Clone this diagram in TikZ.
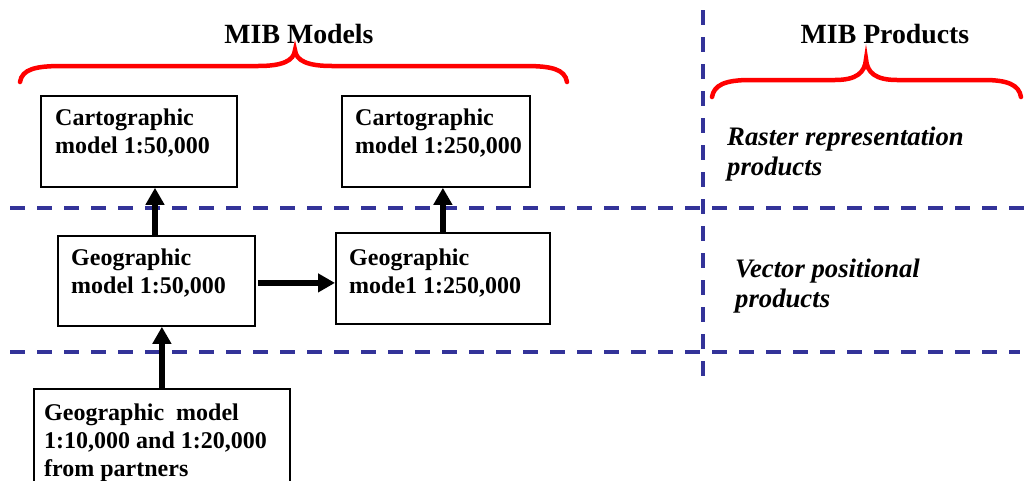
\documentclass[tikz,border=0pt]{standalone}
\usepackage{fontspec}
\setmainfont{Liberation Serif}
\usetikzlibrary{arrows.meta}
\definecolor{dashblue}{RGB}{51,51,153}
\tikzset{
  box/.style={draw=black, line width=1.8pt, inner sep=0pt, anchor=north west},
  boxtext/.style={anchor=north west, inner sep=0pt, align=left, font=\bfseries\fontsize{24}{28}\selectfont},
  prodtext/.style={anchor=north west, inner sep=0pt, align=left, font=\bfseries\itshape\fontsize{26.7}{30}\selectfont},
  title/.style={inner sep=0pt, font=\bfseries\fontsize{27.8}{32}\selectfont},
  flow/.style={line width=5.5pt, -{Triangle[length=17pt,width=18pt]}},
  divider/.style={draw=dashblue, line width=3.5pt, dash pattern=on 15pt off 12pt},
  brace/.style={draw=red, line width=4.5pt, line cap=round}
}
\begin{document}
\begin{tikzpicture}[x=1pt,y=-1pt]
\useasboundingbox (0,0) rectangle (1029,480);
\clip (0,0) rectangle (1029,480);
% dividers
\draw[divider] (10,208) -- (1029,208);
\draw[divider] (10,352) -- (1020,352);
\draw[divider] (703,10) -- (703,380);
% titles
\node[title] (tmodels) at (299,33.5) {MIB Models};
\node[title] (tproducts) at (885,34) {MIB Products};
% braces
\draw[brace] (20,82) .. controls (22,69) and (36,66) .. (62,66) -- (258,66)
  .. controls (282,66) and (294,61) .. (295,50)
  .. controls (296,61) and (308,66) .. (332,66) -- (525,66)
  .. controls (551,66) and (565,69) .. (567,82);
\draw[brace] (712,97) .. controls (714,85) and (725,80) .. (750,80) -- (835,80)
  .. controls (856,80) and (865,73) .. (866,59)
  .. controls (867,73) and (876,80) .. (897,80) -- (984,80)
  .. controls (1008,80) and (1019,85) .. (1021,97);
% boxes
\node[box, minimum width=196pt, minimum height=91pt] (carto1) at (40,95) {};
\node[box, minimum width=188pt, minimum height=91pt] (carto2) at (341,95) {};
\node[box, minimum width=197pt, minimum height=90pt] (geo1) at (57,235) {};
\node[box, minimum width=214pt, minimum height=91pt] (geo2) at (335,232) {};
\node[box, minimum width=256pt, minimum height=120pt] (geo3) at (33,388) {};
% texts
\node[boxtext] (carto1t) at (55,108.5) {Cartographic\\model 1:50,000};
\node[boxtext] (carto2t) at (355,108.5) {Cartographic\\model 1:250,000};
\node[boxtext] (geo1t) at (71,248.5) {Geographic\\model 1:50,000};
\node[boxtext] (geo2t) at (349,249) {Geographic\\mode1 1:250,000};
\node[boxtext] (geo3t) at (44,404) {Geographic\ \ model\\1:10,000 and 1:20,000\\from partners};
\node[prodtext] (raster) at (727,127) {Raster representation\\products};
\node[prodtext] (vector) at (735,259) {Vector positional\\products};
% arrows
\draw[flow] (geo1.north -| 155,0) -- (carto1.south -| 155,0);
\draw[flow] (geo2.north) -- (geo2.north |- carto2.south);
\draw[flow] (geo3.north) -- (geo3.north |- geo1.south);
\draw[flow, shorten <=2pt] ([yshift=-2pt]geo1.east) -- ([yshift=-2pt]geo1.east -| geo2.west);
\end{tikzpicture}
\end{document}
